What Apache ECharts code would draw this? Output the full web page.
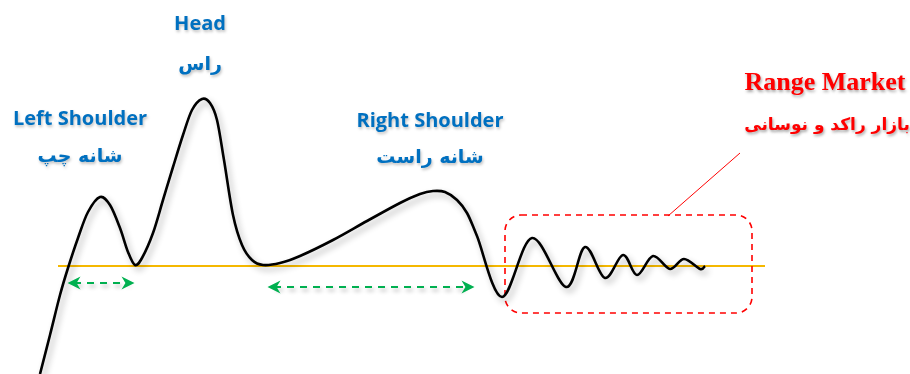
<!DOCTYPE html>
<html><head><meta charset="utf-8">
<script src="https://cdn.jsdelivr.net/npm/echarts@6/dist/echarts.min.js"></script>
<style>html,body{margin:0;padding:0;background:#fff}#c{width:910px;height:374px}</style>
</head><body><div id="c"></div>
<script>
// price path (diagram units, x to the right, y downward)
const curveX = [40,50,60,68,78,88,100,110,120,128,135,142,153,163,173,183,192,202,210,217,224,233,242,252,263,280,300,333,367,400,420,433,445,457,467,477,502,532,566,585,605,623,637,653,670,684,700,705];
const curveY = [374,335,295,268,238,212,197,205,228,252,265,258,233,200,167,135,110,99,103,120,160,215,245,260,265,263,256,240,221,203,194,191,192,200,213,236,297,238,287,247,278,255,275,256,269,259,269,266];
// neckline
const necklineX = [58,765];
const necklineY = [266,266];
// measurement arrows [x1,x2,y]
const arrowLeft = [74,128,283];
const arrowRight = [274,468,287];
// range box [x1,y1,x2,y2]
const rangeBox = [505,215,752,313];
// pointer line [x1,y1,x2,y2]
const pointer = [668,216,740,153];
// labels
const labelTexts = ['Head','راس','Left Shoulder','شانه چپ','Right Shoulder','شانه راست'];
const labelPos = [[200,24],[200,65],[80,119],[80,157],[430,121],[430,158]];
const redTexts = ['Range Market','بازار راکد و نوسانی'];
const redPos = [[825,83],[827,126]];

const chart = echarts.init(document.getElementById('c'));
const curve = curveX.map((x,i)=>[x,curveY[i]]);
const neck = necklineX.map((x,i)=>[x,necklineY[i]]);
const arrowSym = 'path://M5,0 L10,10 L5,7 L0,10 Z';
const green = '#00b050';

function renderCurve(params, api){
  if (params.dataIndex !== 0) return;
  const pts = curve.map(p=>api.coord(p));
  let d = 'M' + pts[0][0] + ' ' + pts[0][1];
  for (let i=0;i<pts.length-1;i++){
    const p0 = pts[i-1]||pts[i], p1 = pts[i], p2 = pts[i+1], p3 = pts[i+2]||pts[i+1];
    const c1x = p1[0]+(p2[0]-p0[0])/6, c1y = p1[1]+(p2[1]-p0[1])/6;
    const c2x = p2[0]-(p3[0]-p1[0])/6, c2y = p2[1]-(p3[1]-p1[1])/6;
    d += ' C'+c1x+' '+c1y+' '+c2x+' '+c2y+' '+p2[0]+' '+p2[1];
  }
  return {type:'path',shape:{pathData:d},silent:true,
    style:{fill:'none',stroke:'#000',lineWidth:2.6,lineJoin:'round',
      shadowColor:'rgba(0,0,0,0.3)',shadowBlur:6,shadowOffsetX:3,shadowOffsetY:4}};
}

chart.setOption({
  animation:false,
  grid:{left:0,right:0,top:0,bottom:0},
  xAxis:{type:'value',min:0,max:910,show:false},
  yAxis:{type:'value',min:0,max:374,inverse:true,show:false},
  series:[
    {type:'line',data:neck,symbol:'none',lineStyle:{color:'#f5b800',width:2.2},z:1,
     markLine:{silent:true,symbol:[arrowSym,arrowSym],symbolSize:[13,13],label:{show:false},
       lineStyle:{color:green,type:[7,6],width:2.2,shadowColor:'rgba(0,0,0,0.3)',shadowBlur:4,shadowOffsetX:2,shadowOffsetY:3},
       data:[
         [{coord:[arrowLeft[0],arrowLeft[2]]},{coord:[arrowLeft[1],arrowLeft[2]]}],
         [{coord:[arrowRight[0],arrowRight[2]]},{coord:[arrowRight[1],arrowRight[2]]}],
         [{coord:[pointer[0],pointer[1]],symbol:'none',lineStyle:{color:'#ff0000',type:'solid',width:1,shadowBlur:0,shadowOffsetX:0,shadowOffsetY:0}},{coord:[pointer[2],pointer[3]],symbol:'none'}]
       ]}},
    {type:'custom',data:curve,renderItem:renderCurve,z:3,clip:false}
  ]
});
const p1 = chart.convertToPixel({gridIndex:0},[rangeBox[0],rangeBox[1]]);
const p2 = chart.convertToPixel({gridIndex:0},[rangeBox[2],rangeBox[3]]);
const graphics = [{type:'rect',shape:{x:p1[0],y:p1[1],width:p2[0]-p1[0],height:p2[1]-p1[1],r:16},
  style:{fill:'none',stroke:'#ff0000',lineWidth:1.6,lineDash:[6,5]},z:2}];
labelTexts.forEach((t,i)=>{
  const p = chart.convertToPixel({gridIndex:0},labelPos[i]);
  const fa = i%2===1;
  graphics.push({type:'text',x:p[0],y:p[1],z:5,style:{text:t,fill:'#0070c0',
    font:fa?'bold 19px "DejaVu Sans"':'bold 20px "Open Sans"',align:'center',verticalAlign:'middle',
    textShadowColor:'rgba(0,0,0,0.25)',textShadowBlur:3,textShadowOffsetX:1,textShadowOffsetY:2}});
});
redTexts.forEach((t,i)=>{
  const p = chart.convertToPixel({gridIndex:0},redPos[i]);
  graphics.push({type:'text',x:p[0],y:p[1],z:5,style:{text:t,fill:'#ff0000',
    font:i===0?'bold 26px "Liberation Serif"':'bold 17px "DejaVu Sans"',align:'center',verticalAlign:'middle',
    textShadowColor:'rgba(0,0,0,0.35)',textShadowBlur:3,textShadowOffsetX:1,textShadowOffsetY:2}});
});
chart.setOption({graphic:graphics});
</script></body></html>
